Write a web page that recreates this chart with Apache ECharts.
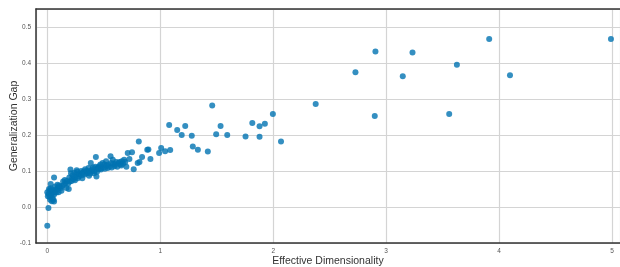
<!DOCTYPE html>
<html lang="en">
<head>
    <meta charset="UTF-8">
    <title>scatter</title>
    <script src="https://cdn.jsdelivr.net/npm/echarts@6/dist/echarts.min.js"></script>
    <style>
        html, body { margin: 0; padding: 0; background: #fff; }
        #main { width: 620px; height: 267px; }
    </style>
</head>
<body>
<div id="main"></div>
<script type="text/javascript">
    // effective dimensionality (x) vs generalization gap (y)
    var effDim = [
        0.00, 0.01, 0.00, 0.01, 0.005, 0.02, 0.03, 0.015, 0.04, 0.025, 0.04, 0.06, 0.055, 0.045, 0.03, 0.06,
        0.035, 0.05, 0.07, 0.085, 0.075, 0.065, 0.09, 0.10, 0.11, 0.12, 0.125, 0.14, 0.16, 0.17, 0.19, 0.20,
        0.205, 0.21, 0.22, 0.245, 0.26, 0.26, 0.28, 0.295, 0.31, 0.325, 0.345, 0.37, 0.385, 0.395, 0.415, 0.43,
        0.435, 0.445, 0.46, 0.475, 0.505, 0.52, 0.535, 0.56, 0.565, 0.58, 0.595, 0.61, 0.63, 0.645, 0.66, 0.68,
        0.02, 0.03, 0.045, 0.06, 0.08, 0.095, 0.105, 0.13, 0.15, 0.155, 0.175, 0.185, 0.195, 0.215, 0.225, 0.235,
        0.24, 0.25, 0.265, 0.27, 0.285, 0.30, 0.305, 0.315, 0.33, 0.335, 0.35, 0.36, 0.365, 0.375, 0.38, 0.40,
        0.405, 0.42, 0.425, 0.44, 0.45, 0.455, 0.47, 0.48, 0.49, 0.50, 0.51, 0.525, 0.54, 0.55, 0.57, 0.585,
        0.60, 0.62, 0.64, 0.655, 0.67, 0.69,
        0.712, 0.75, 0.727, 0.765, 0.80, 0.70, 0.81, 0.816, 0.839, 0.885, 0.895, 0.913, 0.99, 1.008, 1.043, 1.088,
        1.079, 1.15, 1.19, 1.221, 1.279, 1.288, 1.333, 1.421, 1.46, 1.495, 1.534, 1.593, 1.755, 1.815, 1.879, 1.879,
        1.926, 1.997, 2.069, 2.376, 2.728, 2.899, 2.905, 3.147, 3.233, 3.558, 3.626, 3.912, 4.096, 4.99
    ];
    var genGap = [
        -0.052, -0.003, 0.041, 0.036, 0.030, 0.028, 0.045, 0.050, 0.038, 0.020, 0.016, 0.015, 0.020, 0.025, 0.064, 0.082,
        0.033, 0.043, 0.057, 0.050, 0.046, 0.040, 0.062, 0.041, 0.056, 0.053, 0.045, 0.071, 0.067, 0.053, 0.050, 0.071,
        0.104, 0.094, 0.080, 0.074, 0.090, 0.102, 0.085, 0.094, 0.080, 0.099, 0.094, 0.087, 0.122, 0.099, 0.094, 0.139,
        0.085, 0.108, 0.113, 0.104, 0.118, 0.127, 0.108, 0.141, 0.122, 0.131, 0.113, 0.125, 0.122, 0.118, 0.127, 0.131,
        0.045, 0.052, 0.048, 0.035, 0.040, 0.052, 0.060, 0.058, 0.062, 0.075, 0.072, 0.065, 0.082, 0.072, 0.088, 0.078,
        0.095, 0.083, 0.098, 0.080, 0.092, 0.100, 0.088, 0.095, 0.090, 0.105, 0.100, 0.095, 0.108, 0.100, 0.093, 0.105,
        0.110, 0.100, 0.112, 0.098, 0.110, 0.105, 0.118, 0.108, 0.122, 0.110, 0.106, 0.115, 0.118, 0.112, 0.110, 0.120,
        0.118, 0.112, 0.125, 0.115, 0.120, 0.125,
        0.150, 0.152, 0.133, 0.105, 0.122, 0.112, 0.182, 0.125, 0.139, 0.159, 0.160, 0.133, 0.150, 0.164, 0.155, 0.158,
        0.228, 0.214, 0.200, 0.225, 0.198, 0.168, 0.159, 0.154, 0.282, 0.202, 0.225, 0.200, 0.196, 0.233, 0.224, 0.195,
        0.231, 0.258, 0.182, 0.286, 0.374, 0.253, 0.432, 0.363, 0.429, 0.258, 0.395, 0.467, 0.366, 0.467
    ];

    var points = [];
    for (var i = 0; i < effDim.length; i++) {
        points.push([effDim[i], genGap[i]]);
    }

    var chart = echarts.init(document.getElementById('main'));
    var labelFont = 'Liberation Sans';
    var option = {
        backgroundColor: '#fff',
        animation: false,
        grid: { left: 36, right: 0, top: 9, bottom: 24, containLabel: false, outerBoundsMode: 'none' },
        xAxis: [{
            type: 'value',
            min: -0.1,
            max: 5.07,
            splitNumber: 5,
            name: 'Effective Dimensionality',
            nameLocation: 'middle',
            nameGap: 13,
            nameMoveOverlap: false,
            nameTextStyle: { fontSize: 10.5, color: '#333', fontFamily: labelFont },
            axisLine: { show: true, onZero: false, lineStyle: { color: '#333', width: 1.5 } },
            axisTick: { show: false },
            axisLabel: {
                showMinLabel: false, showMaxLabel: false,
                fontSize: 6.5, color: '#555', fontFamily: labelFont, margin: 5
            },
            splitLine: { show: true, lineStyle: { color: '#d4d4d4', width: 1.2 } }
        }, {
            // top spine only
            type: 'value',
            position: 'top',
            min: -0.1,
            max: 5.07,
            axisLine: { show: true, onZero: false, lineStyle: { color: '#333', width: 1.5 } },
            axisTick: { show: false },
            axisLabel: { show: false },
            splitLine: { show: false }
        }],
        yAxis: {
            type: 'value',
            min: -0.1,
            max: 0.55,
            interval: 0.1,
            name: 'Generalization Gap',
            nameLocation: 'middle',
            nameGap: 16,
            nameMoveOverlap: false,
            nameTextStyle: { fontSize: 10.5, color: '#333', fontFamily: labelFont },
            axisLine: { show: true, onZero: false, lineStyle: { color: '#333', width: 1.5 } },
            axisTick: { show: false },
            axisLabel: {
                showMaxLabel: false,
                fontSize: 6.5, color: '#555', fontFamily: labelFont, margin: 5,
                formatter: function (v) { return v.toFixed(1); }
            },
            splitLine: { show: true, lineStyle: { color: '#d4d4d4', width: 1.2 } }
        },
        series: [{
            type: 'scatter',
            xAxisIndex: 0,
            symbolSize: 6,
            itemStyle: { color: '#0173B2', opacity: 0.8 },
            data: points
        }]
    };
    chart.setOption(option);
</script>
</body>
</html>
